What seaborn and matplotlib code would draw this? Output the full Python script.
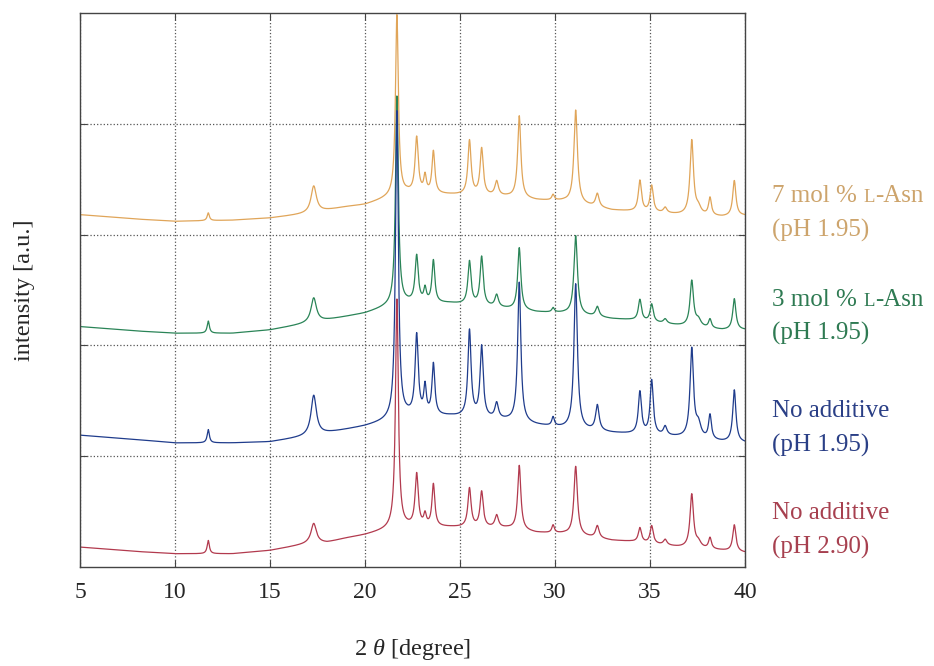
import numpy as np
import pandas as pd
import seaborn as sns
import matplotlib.pyplot as plt
from matplotlib.offsetbox import TextArea, HPacker, VPacker, AnnotationBbox

# Peak positions (2 theta) and half widths, shared by all patterns
peak_pos = [11.75, 17.3, 21.68, 22.72, 23.16, 23.6, 25.5, 26.14, 26.93, 28.12,
            29.9, 31.09, 32.23, 34.47, 35.09, 35.8, 37.2, 37.55, 38.16, 39.44]
peak_hw = [0.07, 0.17, 0.09, 0.1, 0.08, 0.09, 0.1, 0.1, 0.11, 0.1,
           0.08, 0.11, 0.11, 0.1, 0.1, 0.11, 0.11, 0.16, 0.09, 0.1]

# Background anchor points (2 theta)
base_x = [5, 8, 10, 13, 15, 17, 18, 19, 20, 21, 21.5, 22.2, 24.5, 27.5, 29,
          30.5, 33, 34, 36.5, 38.8, 40]

# Background levels (stacked offset included)
red_base = [0.18, 0.14, 0.12, 0.12, 0.15, 0.21, 0.22, 0.26, 0.29, 0.33, 0.35,
            0.36, 0.36, 0.35, 0.31, 0.30, 0.24, 0.23, 0.18, 0.15, 0.13]
blue_base = [1.19, 1.15, 1.12, 1.12, 1.13, 1.18, 1.21, 1.24, 1.27, 1.31, 1.33,
             1.36, 1.36, 1.32, 1.28, 1.25, 1.21, 1.20, 1.17, 1.13, 1.12]
green_base = [2.17, 2.13, 2.11, 2.11, 2.14, 2.20, 2.23, 2.26, 2.29, 2.34, 2.36,
              2.38, 2.38, 2.33, 2.30, 2.29, 2.24, 2.23, 2.18, 2.14, 2.14]
orange_base = [3.18, 3.14, 3.12, 3.13, 3.15, 3.19, 3.22, 3.25, 3.27, 3.32, 3.34,
               3.37, 3.36, 3.34, 3.31, 3.30, 3.22, 3.21, 3.18, 3.16, 3.17]

# Peak heights above background
red_peaks = [0.12, 0.18, 2.06, 0.47, 0.10, 0.38, 0.35, 0.32, 0.11, 0.58,
             0.07, 0.62, 0.11, 0.13, 0.16, 0.05, 0.48, 0.05, 0.10, 0.24]
blue_peaks = [0.12, 0.36, 2.77, 0.72, 0.25, 0.46, 0.78, 0.64, 0.14, 1.26,
              0.08, 1.31, 0.23, 0.38, 0.49, 0.08, 0.80, 0.12, 0.22, 0.47]
green_peaks = [0.11, 0.22, 1.88, 0.42, 0.12, 0.38, 0.39, 0.44, 0.11, 0.56,
               0.04, 0.71, 0.09, 0.19, 0.16, 0.04, 0.41, 0.06, 0.08, 0.28]
orange_peaks = [0.07, 0.24, 1.63, 0.50, 0.15, 0.38, 0.49, 0.42, 0.13, 0.74,
                0.05, 0.84, 0.12, 0.28, 0.24, 0.05, 0.67, 0.06, 0.16, 0.32]

labels = ["7 mol % ", "3 mol % ", "No additive", "No additive"]
ph_labels = ["(pH 1.95)", "(pH 1.95)", "(pH 1.95)", "(pH 2.90)"]
colors = ["#E0A559", "#2A8457", "#1F3C8C", "#B23A4E"]
text_colors = ["#CDA46C", "#2E7A52", "#2A3F86", "#A7404F"]
label_y = [0.680, 0.524, 0.357, 0.203]

x_ticks = [5, 10, 15, 20, 25, 30, 35, 40]


def build_pattern(base, heights):
    """Background plus Lorentzian peaks on a fine 2 theta grid."""
    tt = np.arange(5, 40.0001, 0.01)
    y = np.interp(tt, base_x, base)
    for p, w, h in zip(peak_pos, peak_hw, heights):
        y = y + h / (1 + ((tt - p) / w) ** 2)
    return tt, y


def add_label(fig, x, y, first, second, color):
    """Two line coloured label, with a small capital L for L-Asn."""
    props = dict(color=color, size=18, family="Liberation Serif")
    small = dict(color=color, size=13.5, family="Liberation Serif")
    if first.startswith("No"):
        row1 = HPacker(children=[TextArea(first, textprops=props)],
                       align="baseline", pad=0, sep=0)
    else:
        row1 = HPacker(children=[TextArea(first, textprops=props),
                                 TextArea("L", textprops=small),
                                 TextArea("-Asn", textprops=props)],
                       align="baseline", pad=0, sep=0)
    row2 = HPacker(children=[TextArea(second, textprops=props)],
                   align="baseline", pad=0, sep=0)
    block = VPacker(children=[row1, row2], align="left", pad=0, sep=8.5)
    ab = AnnotationBbox(block, (x, y), xycoords="figure fraction",
                        box_alignment=(0, 0.5), frameon=False)
    fig.add_artist(ab)


def main():
    sns.set_style("ticks")
    plt.rcParams["font.family"] = ["Liberation Serif", "DejaVu Serif"]
    plt.rcParams["mathtext.fontset"] = "custom"
    plt.rcParams["mathtext.rm"] = "Liberation Serif"
    plt.rcParams["mathtext.it"] = "Liberation Serif:italic"

    # orange drawn first, red last (on top)
    series = [("orange", orange_base, orange_peaks),
              ("green", green_base, green_peaks),
              ("blue", blue_base, blue_peaks),
              ("red", red_base, red_peaks)]
    frames = []
    for name, base, heights in series:
        tt, y = build_pattern(base, heights)
        frames.append(pd.DataFrame({"two_theta": tt, "intensity": y, "sample": name}))
    data = pd.concat(frames, ignore_index=True)

    fig = plt.figure(figsize=(9.34, 6.66), dpi=100)
    ax = fig.add_axes([0.0857, 0.1486, 0.7119, 0.8319])

    sns.lineplot(data=data, x="two_theta", y="intensity", hue="sample",
                 palette=dict(zip([s[0] for s in series], colors)),
                 estimator=None, sort=False, linewidth=0.9, legend=False, ax=ax)

    ax.set_xlim(5, 40)
    ax.set_ylim(0, 5)
    ax.set_xticks(x_ticks)
    ax.set_yticks([1, 2, 3, 4])
    ax.set_yticklabels([])
    ax.tick_params(direction="in", top=True, right=True, length=5,
                   color="#444444", labelsize=17, pad=11)
    ax.grid(True, linestyle=":", color="#555555", linewidth=0.9)
    for sp in ax.spines.values():
        sp.set_color("#444444")
        sp.set_linewidth(1.0)

    ax.set_xlabel("2 $\\theta$ [degree]", fontsize=17.5, labelpad=24)
    ax.set_ylabel("intensity [a.u.]", fontsize=17.5)
    ax.yaxis.set_label_coords(-0.068, 0.5)

    for lab, ph, tc, yy in zip(labels, ph_labels, text_colors, label_y):
        add_label(fig, 0.827, yy, lab, ph, tc)

    fig.savefig("out.png", dpi=100)
    plt.close(fig)


if __name__ == "__main__":
    main()
